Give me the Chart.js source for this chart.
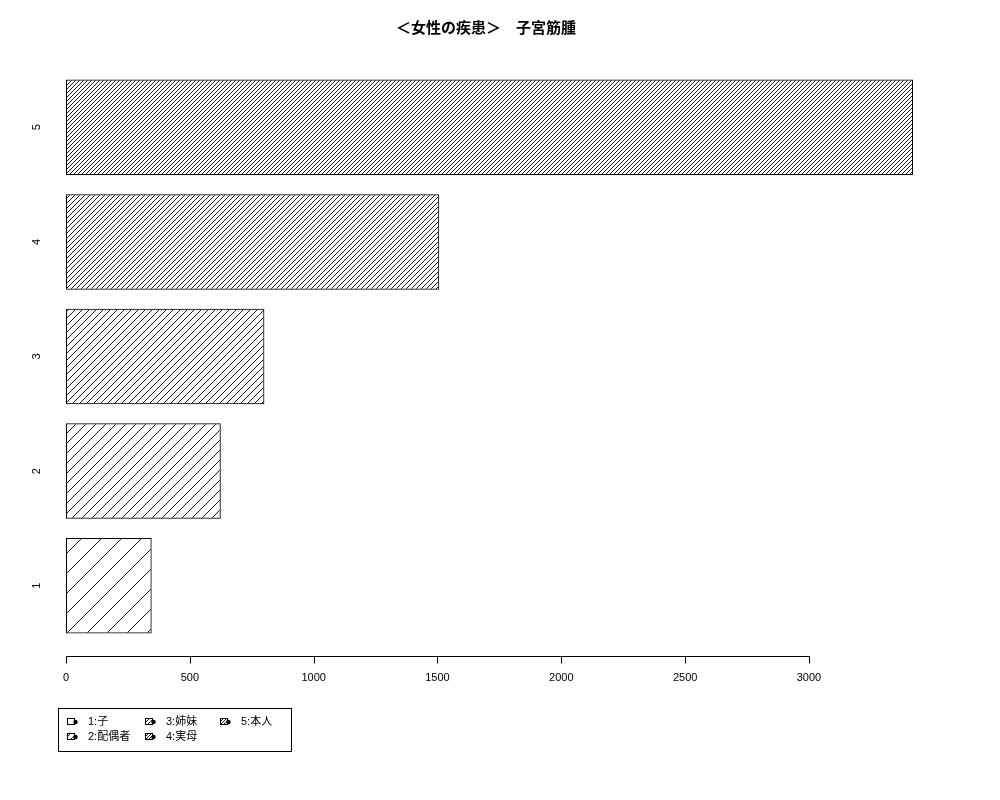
<!DOCTYPE html>
<html>
<head>
<meta charset="utf-8">
<script src="https://cdn.jsdelivr.net/npm/chart.js@4.4.0/dist/chart.umd.min.js"></script>
<style>
  html, body { margin: 0; padding: 0; background: #fff; }
  #wrap { width: 1000px; height: 800px; }
</style>
</head>
<body>
<div id="wrap"><canvas id="c" width="1000" height="800"></canvas></div>
<script>
const titleText = '＜女性の疾患＞　子宮筋腫';
const categories = ['1', '2', '3', '4', '5'];
const values = [346, 625, 801, 1507, 3420];
const legendLabels = ['1:子', '2:配偶者', '3:姉妹', '4:実母', '5:本人'];
const xTicks = [0, 500, 1000, 1500, 2000, 2500, 3000];
const hatchSpacing = [20, 10, 7, 5, 4];

const FONT = '"Liberation Sans", "Noto Sans CJK JP", sans-serif';

function makeHatch(s) {
  const c = document.createElement('canvas');
  c.width = s; c.height = s;
  const g = c.getContext('2d');
  g.strokeStyle = '#000';
  g.lineWidth = 0.9;
  g.beginPath();
  g.moveTo(-1, s + 1); g.lineTo(s + 1, -1);
  g.moveTo(-1, 1); g.lineTo(1, -1);
  g.moveTo(s - 1, s + 1); g.lineTo(s + 1, s - 1);
  g.stroke();
  return g.createPattern(c, 'repeat');
}
const patterns = hatchSpacing.map(makeHatch);
const legendPatterns = [20, 6, 4, 3, 3].map(makeHatch);

const decor = {
  id: 'decor',
  afterDraw(chart) {
    const ctx = chart.ctx;
    const xs = chart.scales.x, ys = chart.scales.y;
    const ca = chart.chartArea;
    ctx.save();
    // title
    ctx.fillStyle = '#000';
    ctx.font = 'bold 15px ' + FONT;
    ctx.textAlign = 'center';
    ctx.textBaseline = 'middle';
    ctx.fillText(titleText, 486, 29);

    // x axis
    const axisY = ca.bottom + 13.5;
    ctx.strokeStyle = '#000';
    ctx.lineWidth = 1;
    ctx.beginPath();
    const x0 = Math.round(xs.getPixelForValue(xTicks[0])) + 0.5;
    const x1 = Math.round(xs.getPixelForValue(xTicks[xTicks.length - 1])) + 0.5;
    ctx.moveTo(x0, axisY); ctx.lineTo(x1, axisY);
    xTicks.forEach(v => {
      const px = Math.round(xs.getPixelForValue(v)) + 0.5;
      ctx.moveTo(px, axisY); ctx.lineTo(px, axisY + 7);
    });
    ctx.stroke();
    ctx.font = '11px ' + FONT;
    ctx.textAlign = 'center';
    ctx.textBaseline = 'middle';
    xTicks.forEach(v => {
      ctx.fillText(String(v), xs.getPixelForValue(v), axisY + 21);
    });

    // y labels (rotated)
    categories.forEach((c, i) => {
      const py = ys.getPixelForValue(i);
      ctx.save();
      ctx.translate(37, py);
      ctx.rotate(-Math.PI / 2);
      ctx.fillText(c, 0, 0);
      ctx.restore();
    });

    // legend
    ctx.strokeStyle = '#000';
    ctx.lineWidth = 1;
    ctx.strokeRect(58.5, 708.5, 233, 43);
    const cols = [67, 145, 220];
    const rows = [722, 737];
    ctx.textAlign = 'left';
    legendLabels.forEach((lab, i) => {
      const col = Math.floor(i / 2), row = i % 2;
      const bx = cols[col], by = rows[row] - 4;
      ctx.fillStyle = legendPatterns[i];
      ctx.fillRect(bx, by, 8, 7);
      ctx.strokeStyle = '#000';
      ctx.strokeRect(bx + 0.5, by + 0.5, 7, 6);
      ctx.fillStyle = '#000';
      ctx.beginPath();
      ctx.arc(bx + 8.5, by + 4, 2.2, 0, Math.PI * 2);
      ctx.fill();
      ctx.fillText(lab, bx + 21, rows[row]);
    });
    ctx.restore();
  }
};

new Chart(document.getElementById('c'), {
  type: 'bar',
  data: {
    labels: categories,
    datasets: [{
      data: values,
      backgroundColor: patterns,
      borderColor: '#000',
      borderWidth: 1,
      borderSkipped: false,
      barPercentage: 0.8333,
      categoryPercentage: 1.0
    }]
  },
  options: {
    indexAxis: 'y',
    responsive: false,
    animation: false,
    devicePixelRatio: 1,
    layout: { padding: { left: 66, right: 87, top: 70, bottom: 157 } },
    plugins: { legend: { display: false }, title: { display: false }, tooltip: { enabled: false } },
    scales: {
      x: { type: 'linear', min: 0, max: 3420, display: false },
      y: { type: 'category', reverse: true, display: false }
    }
  },
  plugins: [decor]
});
</script>
</body>
</html>
